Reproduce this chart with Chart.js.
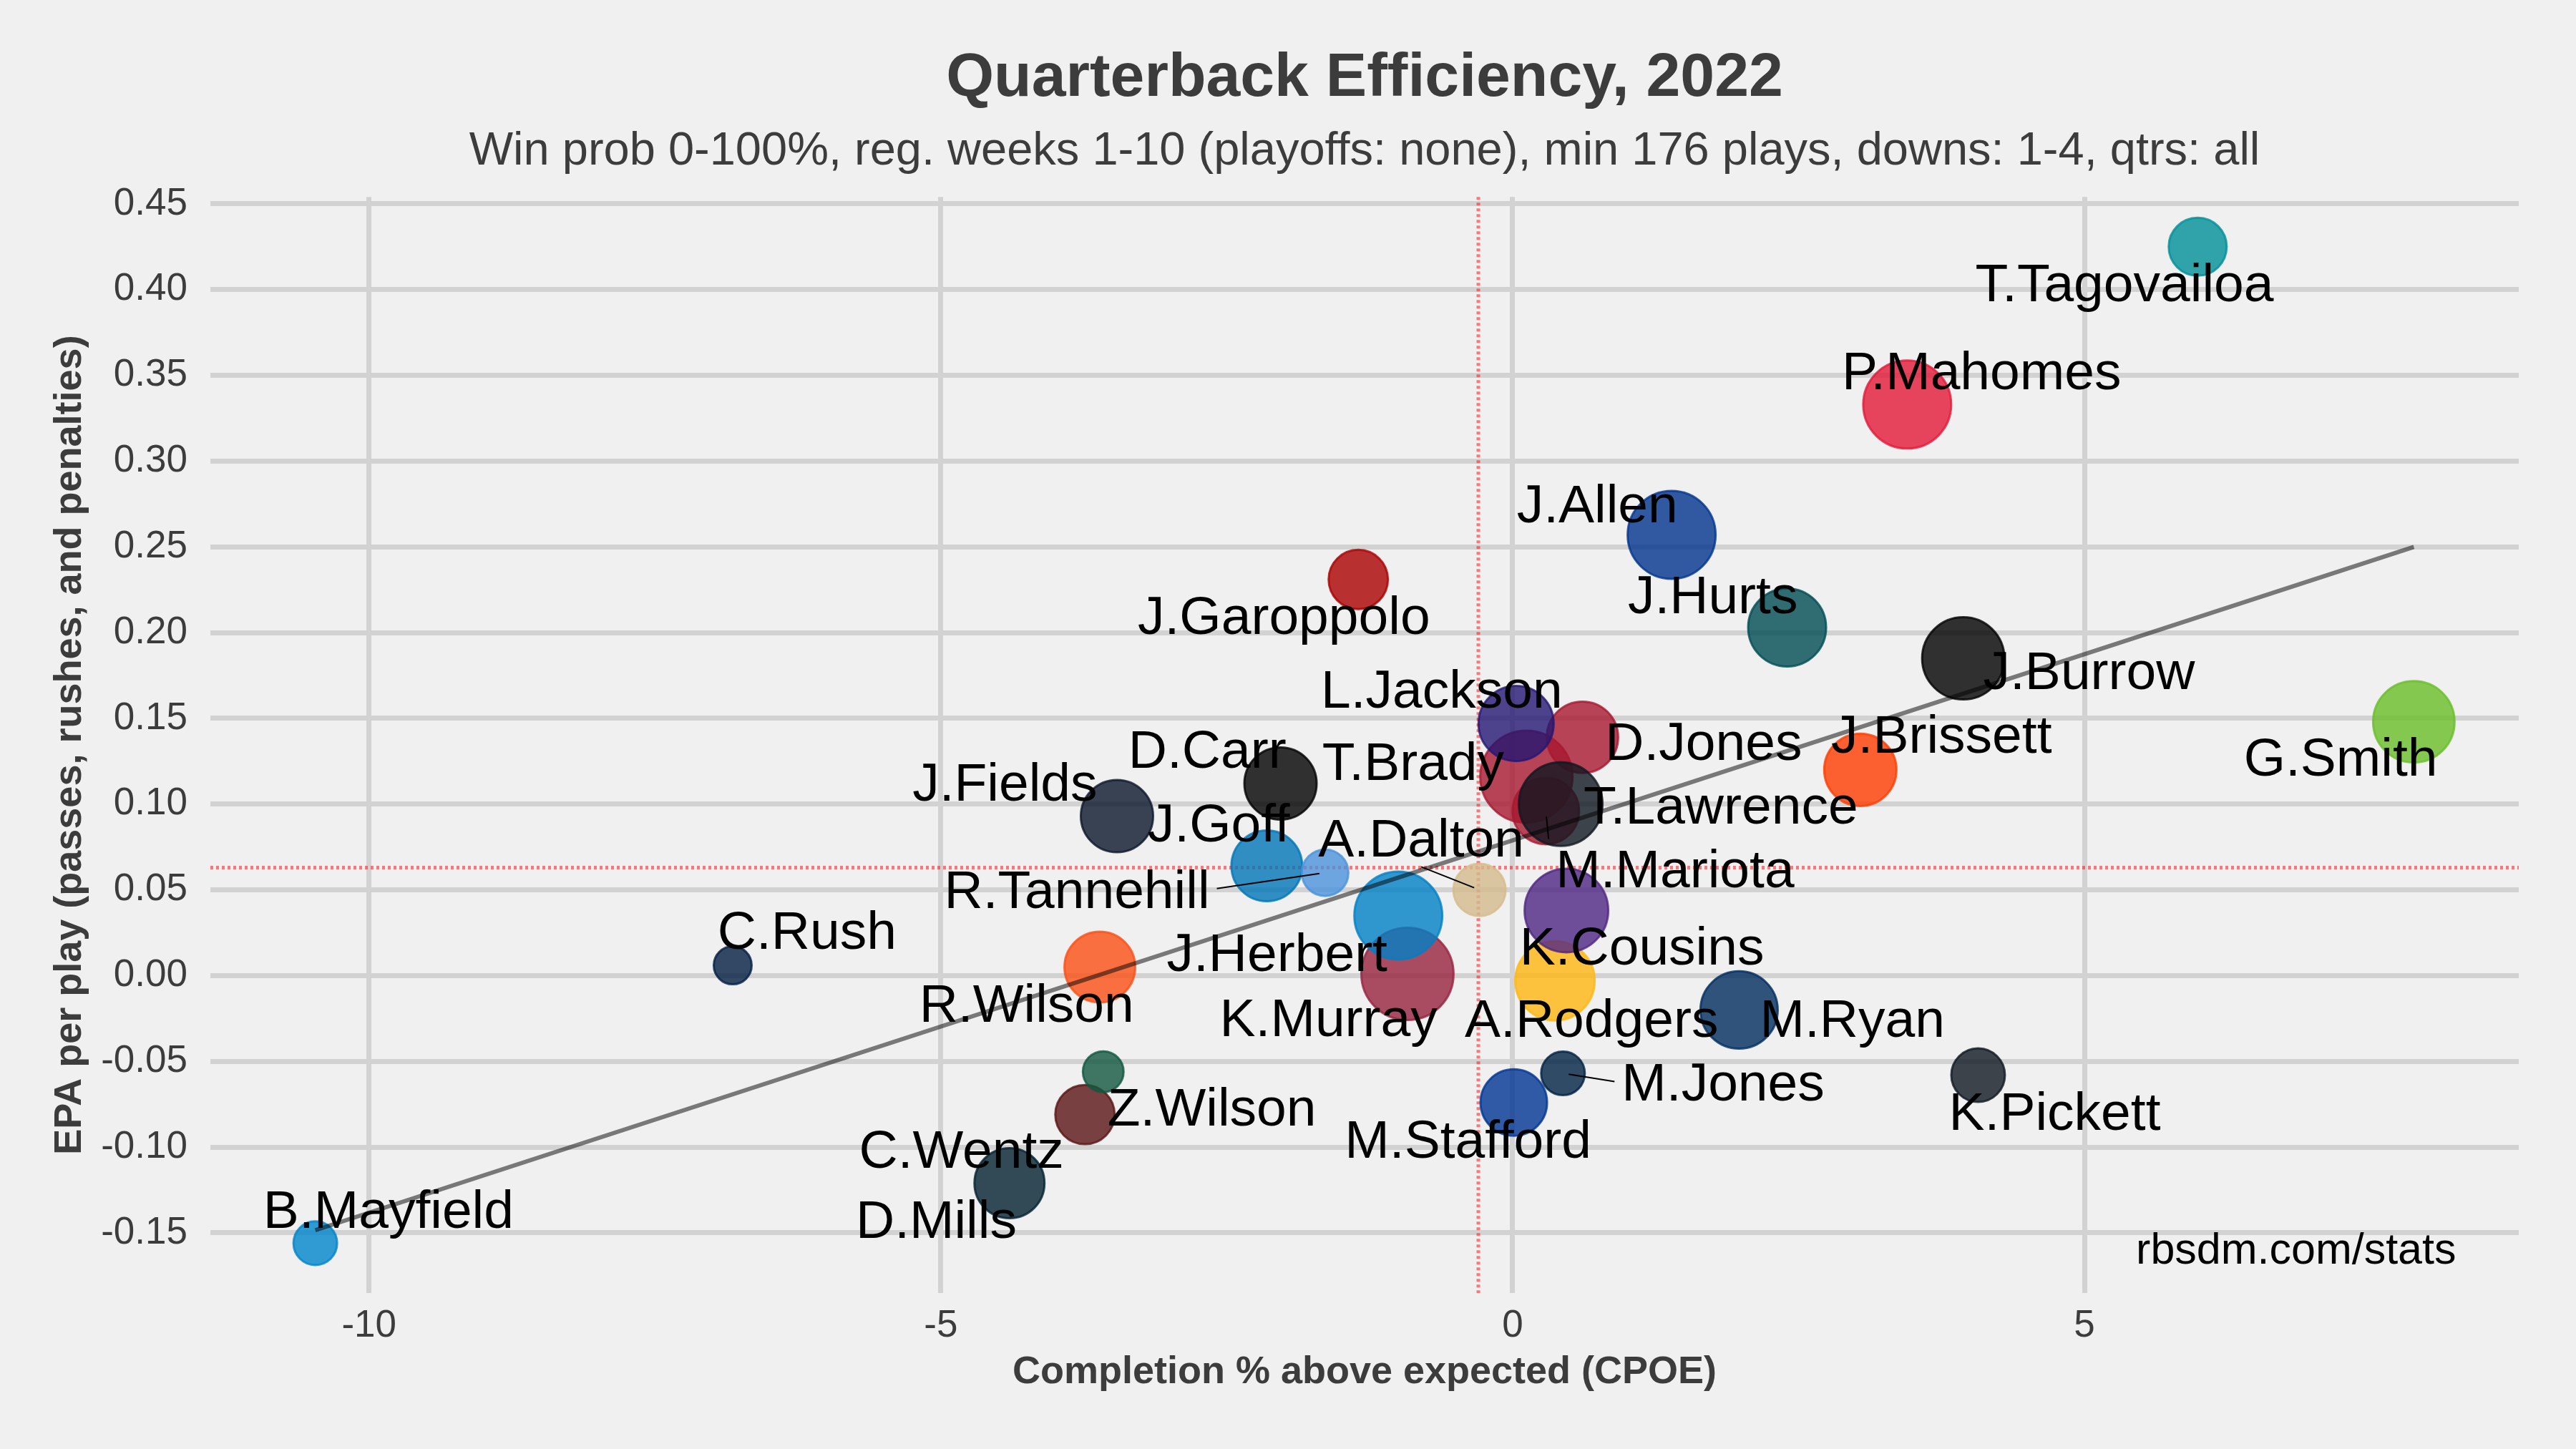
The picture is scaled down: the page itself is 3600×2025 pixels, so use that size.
<!DOCTYPE html>
<html>
<head>
<meta charset="utf-8">
<title>Quarterback Efficiency, 2022</title>
<script src="https://cdn.jsdelivr.net/npm/chart.js@4.4.1/dist/chart.umd.min.js"></script>
<style>
  html, body { margin: 0; padding: 0; background: #f0f0f0; }
</style>
</head>
<body>
<canvas id="qbChart" width="3600" height="2025"></canvas>
<script>
// passers, listed in the order the bubbles get drawn (later ones sit on top)
const players = ["T.Brady", "M.Mariota", "D.Jones", "L.Jackson", "T.Lawrence", "A.Rodgers", "K.Cousins",
  "K.Murray", "J.Herbert", "J.Goff", "R.Tannehill", "C.Wentz", "Z.Wilson", "T.Tagovailoa", "P.Mahomes",
  "J.Allen", "J.Hurts", "J.Burrow", "G.Smith", "J.Brissett", "D.Carr", "J.Garoppolo", "J.Fields",
  "A.Dalton", "R.Wilson", "C.Rush", "B.Mayfield", "D.Mills", "M.Jones", "M.Stafford", "M.Ryan", "K.Pickett"];

// completion % above expected
const cpoe = [0.12, 0.29, 0.61, 0.03, 0.42, 0.37, 0.47,
  -0.92, -1.00, -2.15, -1.64, -3.74, -3.58, 5.99, 3.45,
  1.39, 2.40, 3.94, 7.88, 3.04, -2.03, -1.35, -3.46,
  -0.29, -3.61, -6.82, -10.47, -4.40, 0.44, 0.01, 1.98, 4.07];

// EPA per play
const epa = [0.116, 0.096, 0.139, 0.147, 0.100, -0.003, 0.038,
  0.001, 0.035, 0.064, 0.060, -0.081, -0.056, 0.425, 0.333,
  0.257, 0.203, 0.185, 0.148, 0.120, 0.112, 0.231, 0.093,
  0.050, 0.005, 0.006, -0.156, -0.121, -0.057, -0.074, -0.020, -0.058];

// plays (sets bubble size)
const plays = [480, 320, 348, 370, 423, 396, 423,
  480, 451, 344, 218, 281, 192, 274, 451,
  451, 387, 414, 409, 353, 353, 281, 353,
  245, 344, 180, 205, 340, 205, 320, 383, 252];

const teamColors = ["#A71930", "#A71930", "#A71930", "#241773", "#101820", "#FFB612", "#4F2683",
  "#97233F", "#0080C6", "#0076B6", "#4B92DB", "#5A1414", "#125740", "#008E97", "#E31837",
  "#00338D", "#004C54", "#000000", "#69BE28", "#FF3C00", "#000000", "#AA0000", "#0B162A",
  "#D3BC8D", "#FB4F14", "#041E42", "#0085CA", "#03202F", "#002244", "#003594", "#002C5F", "#101820"];

// where the repelled name labels ended up (centre of the text, data units)
const labelX = [-0.87, 1.42, 1.67, -0.62, 1.82, 0.69, 1.13,
  -1.61, -2.06, -2.57, -3.81, -4.82, -2.63, 5.35, 4.10,
  0.74, 1.75, 5.04, 7.24, 3.75, -2.67, -2.00, -4.44,
  -0.80, -4.25, -6.17, -9.83, -5.04, 1.84, -0.39, 2.97, 4.74];
const labelY = [0.1255, 0.0627, 0.137, 0.1675, 0.100, -0.0243, 0.0178,
  -0.0239, 0.0139, 0.0893, 0.0508, -0.1008, -0.0764, 0.4045, 0.353,
  0.2753, 0.2226, 0.1784, 0.128, 0.141, 0.1326, 0.2103, 0.1131,
  0.0805, -0.0159, 0.0268, -0.1359, -0.1418, -0.0618, -0.0952, -0.0243, -0.0787];
// labels that got pushed far enough to need a segment back to the bubble
const withSegment = ["R.Tannehill", "A.Dalton", "M.Mariota", "M.Jones"];

const xTicks = [-10, -5, 0, 5];
const yTicks = [-0.15, -0.1, -0.05, 0, 0.05, 0.1, 0.15, 0.2, 0.25, 0.3, 0.35, 0.4, 0.45];

// league averages (the red dotted lines)
const avgCpoe = -0.3;
const avgEpa = 0.063;

const FONT = "'Liberation Sans', Arial, Helvetica, sans-serif";
const INK = "#3c3c3c";

function withAlpha(hex, a) {
  var r = parseInt(hex.slice(1, 3), 16);
  var g = parseInt(hex.slice(3, 5), 16);
  var b = parseInt(hex.slice(5, 7), 16);
  return "rgba(" + r + "," + g + "," + b + "," + a + ")";
}

// same idea as ggplot's scale_size: sqrt of the value rescaled into a radius range
const sqMin = Math.sqrt(Math.min(...plays));
const sqMax = Math.sqrt(Math.max(...plays));
function bubbleRadius(p) {
  return 26.5 + (64.5 - 26.5) * (Math.sqrt(p) - sqMin) / (sqMax - sqMin);
}

// ggplot pads the data range by 5% on each side
function expandRange(vals) {
  var lo = Math.min(...vals), hi = Math.max(...vals);
  var pad = (hi - lo) * 0.05;
  return [lo - pad, hi + pad];
}
const xRange = expandRange(cpoe);
const yRange = expandRange(epa);

// plain least squares, like geom_smooth(method = "lm")
function fitLine(xs, ys) {
  var n = xs.length, mx = 0, my = 0;
  for (var i = 0; i < n; i++) { mx += xs[i]; my += ys[i]; }
  mx /= n; my /= n;
  var sxy = 0, sxx = 0;
  for (var j = 0; j < n; j++) {
    sxy += (xs[j] - mx) * (ys[j] - my);
    sxx += (xs[j] - mx) * (xs[j] - mx);
  }
  var slope = sxy / sxx;
  return { slope: slope, intercept: my - slope * mx };
}
const fit = fitLine(cpoe, epa);
const xLo = Math.min(...cpoe), xHi = Math.max(...cpoe);
const trendData = [
  { x: xLo, y: fit.intercept + fit.slope * xLo },
  { x: xHi, y: fit.intercept + fit.slope * xHi }
];

const bubbleData = players.map((name, i) => ({ x: cpoe[i], y: epa[i], r: bubbleRadius(plays[i]) }));

const background = {
  id: "background",
  beforeDraw(chart) {
    const c = chart.ctx;
    c.save();
    c.fillStyle = "#f0f0f0";
    c.fillRect(0, 0, chart.width, chart.height);
    c.restore();
  }
};

const averageLines = {
  id: "averageLines",
  beforeDatasetsDraw(chart) {
    const c = chart.ctx, area = chart.chartArea;
    const xs = chart.scales.x, ys = chart.scales.y;
    const px = xs.getPixelForValue(avgCpoe);
    const py = ys.getPixelForValue(avgEpa);
    c.save();
    c.strokeStyle = "rgba(255,0,0,0.5)";
    c.lineWidth = 5;
    c.setLineDash([4, 4]);
    c.beginPath();
    c.moveTo(px, area.top);
    c.lineTo(px, area.bottom);
    c.moveTo(area.left, py);
    c.lineTo(area.right, py);
    c.stroke();
    c.restore();
  }
};

const nameLabels = {
  id: "nameLabels",
  afterDatasetsDraw(chart) {
    const c = chart.ctx;
    const xs = chart.scales.x, ys = chart.scales.y;
    const size = 75;
    const capMid = 0.358 * size;
    c.save();
    c.font = size + "px " + FONT;

    // segments first, text on top. like ggrepel: hook onto the side of the
    // label box that faces the point (edge middle or corner)
    c.strokeStyle = "#000";
    c.lineWidth = 2;
    players.forEach(function (name, i) {
      if (withSegment.indexOf(name) < 0) return;
      const lx = xs.getPixelForValue(labelX[i]);
      const ly = ys.getPixelForValue(labelY[i]);
      const px = xs.getPixelForValue(cpoe[i]);
      const py = ys.getPixelForValue(epa[i]);
      const halfW = c.measureText(name).width / 2 + 10;
      const halfH = capMid + 14;
      const left = lx - halfW, right = lx + halfW, top = ly - halfH, bottom = ly + halfH;
      const sx = px < left ? left : (px > right ? right : lx);
      const sy = py < top ? top : (py > bottom ? bottom : ly);
      const len = Math.hypot(px - sx, py - sy);
      if (len < 12) return;
      const ex = px - (px - sx) / len * 8, ey = py - (py - sy) / len * 8;
      c.beginPath();
      c.moveTo(sx, sy);
      c.lineTo(ex, ey);
      c.stroke();
    });

    c.fillStyle = "#000";
    c.textAlign = "center";
    c.textBaseline = "alphabetic";
    players.forEach(function (name, i) {
      const lx = xs.getPixelForValue(labelX[i]);
      const ly = ys.getPixelForValue(labelY[i]);
      c.fillText(name, lx, ly + capMid);
    });

    // source note in the bottom-right corner of the panel
    c.font = "61px " + FONT;
    c.textAlign = "right";
    c.fillText("rbsdm.com/stats", xs.getPixelForValue(8.25), ys.getPixelForValue(-0.168));
    c.restore();
  }
};

const config = {
  type: "bubble",
  data: {
    datasets: [
      {
        type: "line",
        label: "fit",
        data: trendData,
        borderColor: "rgba(0,0,0,0.5)",
        borderWidth: 6,
        pointRadius: 0,
        fill: false,
        order: 0
      },
      {
        type: "bubble",
        label: "QBs",
        data: bubbleData,
        backgroundColor: teamColors.map(c => withAlpha(c, 0.8)),
        borderColor: teamColors.map(c => withAlpha(c, 0.8)),
        borderWidth: 3,
        order: 1
      }
    ]
  },
  options: {
    responsive: false,
    devicePixelRatio: 1,
    animation: false,
    events: [],
    layout: { padding: { left: 0, right: 80, top: 0, bottom: 0 } },
    plugins: {
      legend: { display: false },
      tooltip: { enabled: false },
      title: {
        display: true,
        text: "Quarterback Efficiency, 2022",
        color: INK,
        fullSize: false,
        font: { family: FONT, size: 86, weight: "bold", lineHeight: 1.2 },
        padding: { top: 59, bottom: 11 }
      },
      subtitle: {
        display: true,
        text: "Win prob 0-100%, reg. weeks 1-10 (playoffs: none), min 176 plays, downs: 1-4, qtrs: all",
        color: INK,
        fullSize: false,
        font: { family: FONT, size: 65, lineHeight: 1.2 },
        padding: { top: 0, bottom: 24 }
      }
    },
    scales: {
      x: {
        type: "linear",
        min: xRange[0],
        max: xRange[1],
        afterBuildTicks: s => { s.ticks = xTicks.map(v => ({ value: v })); },
        afterFit: s => { s.height = 218; },
        border: { display: false },
        grid: { color: "#d2d2d2", lineWidth: 7, drawTicks: false },
        ticks: {
          color: INK,
          padding: 15,
          font: { family: FONT, size: 53 },
          callback: v => String(v)
        },
        title: {
          display: true,
          text: "Completion % above expected (CPOE)",
          color: INK,
          font: { family: FONT, size: 54, weight: "bold", lineHeight: 1.2 },
          padding: { top: 0, bottom: 74 }
        }
      },
      y: {
        type: "linear",
        min: yRange[0],
        max: yRange[1],
        afterBuildTicks: s => { s.ticks = yTicks.map(v => ({ value: v })); },
        afterFit: s => { s.width = 294; },
        border: { display: false },
        grid: { color: "#d2d2d2", lineWidth: 7, drawTicks: false },
        ticks: {
          color: INK,
          padding: 32,
          font: { family: FONT, size: 53 },
          callback: v => v.toFixed(2)
        },
        title: {
          display: true,
          text: "EPA per play (passes, rushes, and penalties)",
          color: INK,
          font: { family: FONT, size: 54, weight: "bold", lineHeight: 1.2 },
          padding: { top: 66, bottom: 0 }
        }
      }
    }
  },
  plugins: [background, averageLines, nameLabels]
};

const myChart = new Chart(document.getElementById("qbChart"), config);
</script>
</body>
</html>
